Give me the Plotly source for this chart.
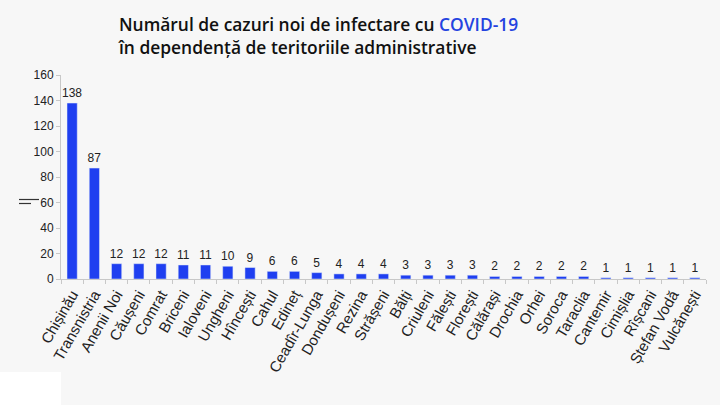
import plotly.graph_objects as go

categories = ["Chișinău", "Transnistria", "Anenii Noi", "Căușeni", "Comrat", "Briceni",
              "Ialoveni", "Ungheni", "Hîncești", "Cahul", "Edineț", "Ceadîr-Lunga",
              "Dondușeni", "Rezina", "Strășeni", "Bălți", "Criuleni", "Fălești",
              "Florești", "Călărași", "Drochia", "Orhei", "Soroca", "Taraclia",
              "Cantemir", "Cimișlia", "Rîșcani", "Ștefan Vodă", "Vulcănești"]
values = [138, 87, 12, 12, 12, 11, 11, 10, 9, 6, 6, 5, 4, 4, 4, 3, 3, 3, 3,
          2, 2, 2, 2, 2, 1, 1, 1, 1, 1]
y_ticks = [0, 20, 40, 60, 80, 100, 120, 140, 160]

BAR = "#1f3ff0"
L, R, T, B = 61, 14, 75, 126
PW, PH = 720 - L - R, 405 - T - B


def px(x):
    return (x - L) / PW


def py(y):
    return 1 - (y - T) / PH


fig = go.Figure(go.Bar(
    x=categories, y=values, marker_color=BAR, width=0.46,
    text=[str(v) for v in values], textposition="outside", constraintext="none",
    textfont=dict(family="Liberation Sans, Arial", size=12, color="#222"),
    cliponaxis=False,
))

fig.update_layout(
    width=720, height=405,
    margin=dict(l=L, r=R, t=T, b=B, autoexpand=False),
    paper_bgcolor="#f7f7f7", plot_bgcolor="#f7f7f7",
    showlegend=False,
    xaxis=dict(
        automargin=False,
        tickangle=-60, tickfont=dict(family="Liberation Sans, Arial", size=15, color="#222"),
        showline=True, linecolor="#c8c8c8", ticks="outside", tickson="boundaries",
        ticklen=4, tickcolor="#c8c8c8", showgrid=False,
    ),
    yaxis=dict(
        automargin=False,
        range=[0, 160], tickvals=y_ticks, showgrid=False, zeroline=False,
        showline=True, linecolor="#c8c8c8", ticks="outside", ticklen=4,
        tickcolor="#c8c8c8",
        tickfont=dict(family="Liberation Sans, Arial", size=12, color="#222"),
    ),
    shapes=[
        dict(type="rect", xref="paper", yref="paper", x0=px(0), x1=px(61),
             y0=py(405), y1=py(372), fillcolor="white", line_width=0, layer="below"),
        dict(type="line", xref="paper", yref="paper", x0=px(19), x1=px(39),
             y0=py(199.5), y1=py(199.5), line=dict(color="#333", width=1.2)),
        dict(type="line", xref="paper", yref="paper", x0=px(19), x1=px(31),
             y0=py(203.5), y1=py(203.5), line=dict(color="#333", width=1.2)),
    ],
    annotations=[
        dict(xref="paper", yref="paper", x=px(116), y=py(10),
             xanchor="left", yanchor="top", showarrow=False, align="left",
             text="Numărul de cazuri noi de infectare cu <span style='color:#2443e0'>COVID-19</span><br>în dependență de teritoriile administrative",
             font=dict(family="Open Sans", size=17.4, color="#111", weight=600)),
    ],
)

fig.write_html("out.html", config={"displayModeBar": False},
               post_script="document.body.style.margin='0';document.body.style.background='#f7f7f7';")
